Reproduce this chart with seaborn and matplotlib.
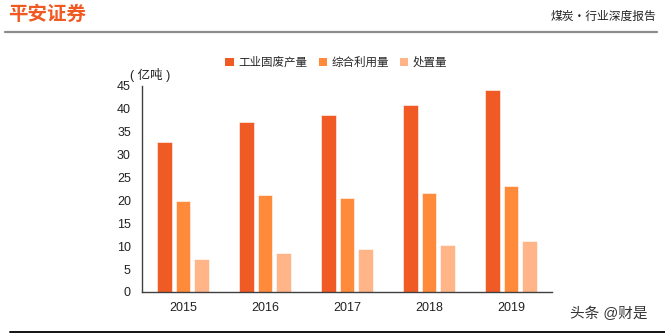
import matplotlib
matplotlib.use("Agg")
import matplotlib.pyplot as plt
from matplotlib.lines import Line2D
from matplotlib.patches import Patch
import seaborn as sns
import pandas as pd

sns.set_style("white")
plt.rcParams["font.family"] = ["Liberation Sans", "Noto Sans CJK SC", "DejaVu Sans"]

# 一般工业固体废物：产生、综合利用与处置（亿吨）
years = ["2015", "2016", "2017", "2018", "2019"]
generated = [32.8, 37.1, 38.7, 40.8, 44.1]
utilized = [19.9, 21.1, 20.6, 21.6, 23.2]
disposed = [7.2, 8.5, 9.4, 10.3, 11.1]
series_names = ["工业固废产量", "综合利用量", "处置量"]
colors = ["#F05A24", "#FF8A3A", "#FFB587"]

df = pd.DataFrame({
    "year": years * 3,
    "value": generated + utilized + disposed,
    "series": [series_names[0]] * 5 + [series_names[1]] * 5 + [series_names[2]] * 5,
})

fig = plt.figure(figsize=(6.65, 3.35), dpi=100)
ax = fig.add_axes([0.2135, 0.1284, 0.6165, 0.615])

sns.barplot(data=df, x="year", y="value", hue="series", hue_order=series_names,
            palette=colors, width=0.67, gap=0.2, ax=ax, legend=False,
            edgecolor="white", linewidth=0.4, saturation=1)

ax.set_xlim(-0.5, 4.5)
ax.set_ylim(0, 45)
ax.set_yticks(range(0, 46, 5))
ax.set_xlabel("")
ax.set_ylabel("")
for side in ["top", "right"]:
    ax.spines[side].set_visible(False)
for side in ["left", "bottom"]:
    ax.spines[side].set_color("#404040")
    ax.spines[side].set_linewidth(1.0)

ax.tick_params(axis="y", length=0, labelsize=9, pad=8, colors="#222222")
ax.tick_params(axis="x", which="major", length=0, labelsize=9, pad=7, colors="#222222")
ax.set_xticks([-0.5, 0.5, 1.5, 2.5, 3.5, 4.5], minor=True)
ax.tick_params(axis="x", which="minor", length=4, direction="inout", color="#404040", width=1)

fig.text(130 / 665, 1 - 75 / 335, "( 亿吨 )", fontsize=9, ha="left", va="center", color="#222222")

handles = [Patch(facecolor=c, edgecolor="none") for c in colors]
fig.legend(handles, series_names, loc="center", bbox_to_anchor=(0.506, 1 - 63 / 335),
           ncol=3, frameon=False, fontsize=8.3, handlelength=0.7, handleheight=0.7,
           handletextpad=0.4, columnspacing=1.0)

# 页眉与页脚
fig.text(8 / 665, 1 - 15 / 335, "平安证券", fontsize=14, fontweight="bold",
         color="#F05A22", ha="left", va="center")
fig.text(656 / 665, 1 - 16 / 335, "煤炭・行业深度报告", fontsize=8.5,
         family=["Noto Sans CJK SC", "DejaVu Sans"],
         color="#222222", ha="right", va="center")
fig.add_artist(Line2D([5 / 665, 657 / 665], [1 - 31.5 / 335] * 2,
                      color="#8C8C8C", linewidth=1.6))
fig.text(570 / 665, 1 - 314 / 335, "头条 @财是", fontsize=10.5,
         color="#333333", ha="left", va="center")
fig.add_artist(Line2D([10 / 665, 1.0], [1 - 331.5 / 335] * 2,
                      color="#111111", linewidth=1.4))

fig.savefig("out.png", dpi=100)
